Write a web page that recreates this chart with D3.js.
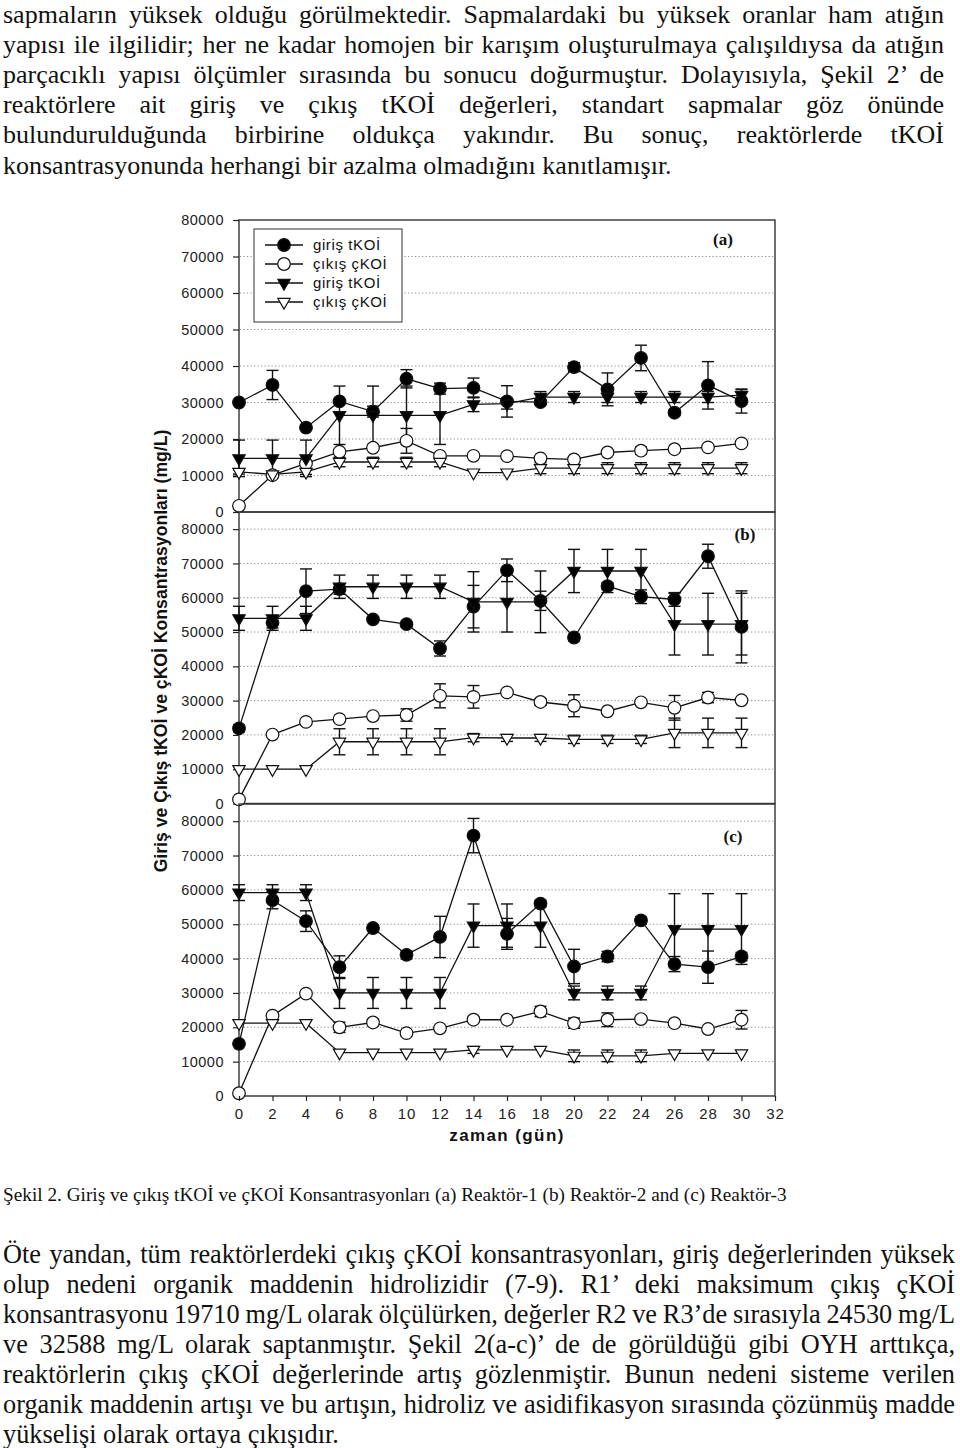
<!DOCTYPE html>
<html><head><meta charset="utf-8">
<script src="https://cdn.jsdelivr.net/npm/d3@7"></script>
<style>body{margin:0;background:#fff} svg{display:block}</style>
</head><body>
<script>
// ---------- DATA ----------
const days = [0,2,4,6,8,10,12,14,16,18,20,22,24,26,28,30];
const xTicks = [0,2,4,6,8,10,12,14,16,18,20,22,24,26,28,30,32];
const yTicks = [0,10000,20000,30000,40000,50000,60000,70000,80000];
const legendLabels = ["giriş tKOİ","çıkış çKOİ","giriş tKOİ","çıkış çKOİ"];
const panelLabels = ["(a)","(b)","(c)"];

// Panel (a) Reaktör-1
const aGirisT1    = [30000,34800,23100,30300,27500,36500,33800,34000,30300,30100,39700,33600,42200,27200,34700,30400];
const aGirisT1Err = [0,4000,500,0,1500,2500,1500,2700,4300,500,1200,4500,3500,800,6500,3300];
const aCikisC1    = [1700,10100,13300,16500,17600,19500,15400,15400,15300,14700,14400,16300,16800,17200,17700,18800];
const aCikisC1Err = [0,0,0,0,0,3400,0,0,0,0,0,0,1000,0,0,0];
const aGirisT2    = [14700,14700,14700,26500,26500,26500,26500,29500,29700,31500,31500,31500,31500,31500,31500,32000];
const aGirisT2Err = [5000,5000,5000,8000,8000,8000,8000,2000,1500,1500,1500,1500,1500,1500,1500,1500];
const aCikisC2    = [11000,10300,11000,13700,13700,13700,13700,10800,10800,12000,12000,12000,12000,12000,12000,12000];
const aCikisC2Err = [600,0,700,1300,1300,1300,1300,0,0,1500,1500,1500,1500,1500,1500,1500];

// Panel (b) Reaktör-2
const bGirisT1    = [21900,52700,61900,62500,53700,52300,45200,57400,68000,59100,48400,63400,60300,59500,72100,51500];
const bGirisT1Err = [1000,1500,6500,1500,500,500,2200,6200,3300,2800,1000,1000,2000,2000,3500,10500];
const bCikisC1    = [1200,20100,23800,24600,25500,25800,31400,31100,32400,29600,28500,26900,29500,27900,30900,30100];
const bCikisC1Err = [0,0,0,0,0,1800,3500,3300,700,1000,3200,0,0,3600,1500,0];
const bGirisT2    = [54000,54000,54000,63200,63200,63200,63200,58800,58800,58800,67800,67800,67800,52300,52300,52300];
const bGirisT2Err = [3500,3500,3500,3400,3400,3400,3400,8800,8800,9000,6300,6300,6300,9000,9000,9000];
const bCikisC2    = [10000,10000,10000,18000,18000,18000,18000,19200,19100,19100,18700,18700,18700,20600,20600,20600];
const bCikisC2Err = [0,0,0,3800,3800,3800,3800,1200,1000,1000,1200,1200,1200,4300,4300,4300];

// Panel (c) Reaktör-3
const cGirisT1    = [15200,57000,50900,37500,48900,41100,46300,75800,47200,56000,37700,40600,51100,38400,37500,40600];
const cGirisT1Err = [0,2500,3000,3300,500,1200,6000,5000,4500,1000,5000,1500,1000,2200,4700,1200];
const cCikisC1    = [800,23400,29800,20000,21400,18300,19700,22200,22200,24600,21200,22200,22400,21200,19500,22200];
const cCikisC1Err = [0,500,0,1500,1000,0,0,800,0,1500,1500,2000,0,0,0,2700];
const cGirisT2    = [59200,59200,59200,30000,30000,30000,30000,49600,49600,49600,30000,30000,30000,48600,48600,48600];
const cGirisT2Err = [2300,2300,2300,4500,4500,4500,4500,6300,6300,6300,2000,2000,2000,10300,10300,10300];
const cCikisC2    = [21200,21200,21200,12600,12600,12600,12600,13400,13400,13400,11700,11700,11700,12400,12400,12400];
const cCikisC2Err = [0,0,0,0,0,0,0,1000,0,0,1700,1700,1700,0,0,0];

// Texts
const topLines = [
 "sapmaların yüksek olduğu görülmektedir. Sapmalardaki bu yüksek oranlar ham atığın",
 "yapısı ile ilgilidir; her ne kadar homojen bir karışım oluşturulmaya çalışıldıysa da atığın",
 "parçacıklı yapısı ölçümler sırasında bu sonucu doğurmuştur. Dolayısıyla, Şekil 2’ de",
 "reaktörlere ait giriş ve çıkış tKOİ değerleri, standart sapmalar göz önünde",
 "bulundurulduğunda birbirine oldukça yakındır. Bu sonuç, reaktörlerde tKOİ",
 "konsantrasyonunda herhangi bir azalma olmadığını kanıtlamışır."
];
const caption = "Şekil 2. Giriş ve çıkış tKOİ ve çKOİ Konsantrasyonları (a) Reaktör-1 (b) Reaktör-2 and (c) Reaktör-3";
const bottomLines = [
 "Öte yandan, tüm reaktörlerdeki çıkış çKOİ konsantrasyonları, giriş değerlerinden yüksek",
 "olup nedeni organik maddenin hidrolizidir (7-9). R1’ deki maksimum çıkış çKOİ",
 "konsantrasyonu 19710 mg/L olarak ölçülürken, değerler R2 ve R3’de sırasıyla 24530 mg/L",
 "ve 32588 mg/L olarak saptanmıştır. Şekil 2(a-c)’ de de görüldüğü gibi OYH arttıkça,",
 "reaktörlerin çıkış çKOİ değerlerinde artış gözlenmiştir. Bunun nedeni sisteme verilen",
 "organik maddenin artışı ve bu artışın, hidroliz ve asidifikasyon sırasında çözünmüş madde",
 "yükselişi olarak ortaya çıkışıdır."
];
const yAxisTitle = "Giriş ve Çıkış tKOİ ve çKOİ Konsantrasyonları (mg/L)";
const xAxisTitle = "zaman (gün)";

// ---------- DRAW ----------
const W = 960, H = 1448;
const svg = d3.select("body").append("svg").attr("width", W).attr("height", H);
svg.append("rect").attr("width", W).attr("height", H).attr("fill", "#fff");

const serif = "'Liberation Serif','Times New Roman',serif";
const sans = "'Liberation Sans',Arial,Helvetica,sans-serif";

function textLine(text, x, y, width, justify, fs) {
  const t = svg.append("text").attr("x", x).attr("y", y)
    .style("font-family", serif).style("font-size", fs + "px").attr("fill", "#111").text(text);
  if (justify) {
    const w = t.node().getComputedTextLength();
    const n = (text.match(/ /g) || []).length;
    if (n > 0) t.style("word-spacing", ((width - w) / n) + "px");
  }
  return t;
}
// font size fitted so a text spans the same width as in the page
function fitSize(text, target, base, family, weight) {
  const t = svg.append("text").style("font-family", family || serif)
    .style("font-weight", weight || "normal").style("font-size", base + "px").text(text);
  const w = t.node().getComputedTextLength(); t.remove();
  return base * target / w;
}
const fsTop = fitSize(topLines[5], 669, 24);
topLines.forEach((l, i) => textLine(l, 3, 22.5 + i * 30.2, 941, i < topLines.length - 1, fsTop));
const fsCap = fitSize(caption, 784, 18);
textLine(caption, 3, 1201, 0, false, fsCap);
const fsBot = fitSize(bottomLines[6], 336, 24);
bottomLines.forEach((l, i) => textLine(l, 3, 1263 + i * 30, 952, i < bottomLines.length - 1, fsBot));

// chart geometry
const x = d3.scaleLinear().domain([0, 32]).range([239, 775]);
const panels = [
  {y: d3.scaleLinear().domain([0, 80000]).range([512, 220]), top: 220, bottom: 512,
   series: [[aGirisT1,aGirisT1Err],[aCikisC1,aCikisC1Err],[aGirisT2,aGirisT2Err],[aCikisC2,aCikisC2Err]],
   label: panelLabels[0], lx: 723, ly: 245},
  {y: d3.scaleLinear().domain([0, 85000]).range([803.5, 512]), top: 512, bottom: 803.5,
   series: [[bGirisT1,bGirisT1Err],[bCikisC1,bCikisC1Err],[bGirisT2,bGirisT2Err],[bCikisC2,bCikisC2Err]],
   label: panelLabels[1], lx: 745, ly: 540},
  {y: d3.scaleLinear().domain([0, 85000]).range([1096, 804]), top: 804, bottom: 1096,
   series: [[cGirisT1,cGirisT1Err],[cCikisC1,cCikisC1Err],[cGirisT2,cGirisT2Err],[cCikisC2,cCikisC2Err]],
   label: panelLabels[2], lx: 733, ly: 842}
];
const styles = [
  {shape: d3.symbolCircle, size: 125, fill: "#000", rot: 0},
  {shape: d3.symbolCircle, size: 125, fill: "#fff", rot: 0},
  {shape: d3.symbolTriangle, size: 66, fill: "#000", rot: 180},
  {shape: d3.symbolTriangle, size: 66, fill: "#fff", rot: 180}
];

panels.forEach(p => {
  const g = svg.append("g");
  // grid
  g.selectAll("line.grid").data(yTicks.filter(t => t > 0 && p.y(t) > p.top + 1)).join("line")
    .attr("x1", 240).attr("x2", 774).attr("y1", d => p.y(d)).attr("y2", d => p.y(d))
    .attr("stroke", "#8a8a8a").attr("stroke-width", 1).attr("stroke-dasharray", "1.2,2.3");
  // frame
  g.append("rect").attr("x", 239).attr("y", p.top).attr("width", 536).attr("height", p.bottom - p.top)
    .attr("fill", "none").attr("stroke", "#333").attr("stroke-width", 1.4);
  // y axis
  const ax = g.append("g").attr("transform", "translate(239,0)")
    .call(d3.axisLeft(p.y).tickValues(yTicks).tickSize(6).tickPadding(9).tickFormat(d3.format("d")));
  ax.select(".domain").remove();
  ax.selectAll("line").attr("stroke", "#222").attr("stroke-width", 1.2);
  ax.selectAll("text").style("font-family", sans).style("font-size", "14.5px")
    .style("letter-spacing", "0.5px").attr("fill", "#222");
  // series lines
  p.series.forEach(([vals, errs], si) => {
    const line = d3.line().x((d, i) => x(days[i])).y(d => p.y(d));
    g.append("path").datum(vals).attr("d", line).attr("fill", "none")
      .attr("stroke", "#111").attr("stroke-width", 1.3);
  });
  // error bars
  p.series.forEach(([vals, errs], si) => {
    const eb = g.append("g").attr("stroke", "#111").attr("stroke-width", 1.4);
    vals.forEach((v, i) => {
      const e = errs[i]; if (!e) return;
      const cx = x(days[i]);
      eb.append("line").attr("x1", cx).attr("x2", cx).attr("y1", p.y(v - e)).attr("y2", p.y(v + e));
      [v - e, v + e].forEach(c => eb.append("line").attr("x1", cx - 6).attr("x2", cx + 6)
        .attr("y1", p.y(c)).attr("y2", p.y(c)));
    });
  });
  // markers
  p.series.forEach(([vals, errs], si) => {
    const st = styles[si];
    g.append("g").selectAll("path").data(vals).join("path")
      .attr("d", d3.symbol().type(st.shape).size(st.size))
      .attr("transform", (d, i) => `translate(${x(days[i])},${p.y(d)}) rotate(${st.rot})`)
      .attr("fill", st.fill).attr("stroke", "#111").attr("stroke-width", 1.2);
  });
  g.append("text").attr("x", p.lx).attr("y", p.ly).attr("text-anchor", "middle")
    .style("font-family", serif).style("font-weight", "bold").style("font-size", "17px")
    .attr("fill", "#111").text(p.label);
});

// x axis
const xa = svg.append("g").attr("transform", "translate(0,1096)")
  .call(d3.axisBottom(x).tickValues(xTicks).tickSize(5).tickPadding(7));
xa.select(".domain").remove();
xa.selectAll("line").attr("stroke", "#222").attr("stroke-width", 1.2);
xa.selectAll("text").style("font-family", sans).style("font-size", "15px")
  .style("letter-spacing", "1px").attr("fill", "#222");

svg.append("text").attr("x", 507).attr("y", 1141).attr("text-anchor", "middle")
  .style("font-family", sans).style("font-weight", "bold").style("font-size", "17px")
  .style("letter-spacing", "1.4px").attr("fill", "#111").text(xAxisTitle);

const fsY = fitSize(yAxisTitle, 443, 15, sans, "bold");
svg.append("text").attr("transform", "translate(167,651) rotate(-90)").attr("text-anchor", "middle")
  .style("font-family", sans).style("font-weight", "bold").style("font-size", fsY + "px")
  .attr("fill", "#111").text(yAxisTitle);

// legend
const lg = svg.append("g");
lg.append("rect").attr("x", 254).attr("y", 229).attr("width", 148).attr("height", 93)
  .attr("fill", "#fff").attr("stroke", "#444").attr("stroke-width", 1.1);
legendLabels.forEach((lab, i) => {
  const ly = 245 + i * 19;
  lg.append("line").attr("x1", 265).attr("x2", 303).attr("y1", ly).attr("y2", ly)
    .attr("stroke", "#111").attr("stroke-width", 1.3);
  const st = styles[i];
  lg.append("path").attr("d", d3.symbol().type(st.shape).size(st.size)())
    .attr("transform", `translate(284,${ly}) rotate(${st.rot})`)
    .attr("fill", st.fill).attr("stroke", "#111").attr("stroke-width", 1.2);
  lg.append("text").attr("x", 313).attr("y", ly + 5)
    .style("font-family", sans).style("font-size", "15px").style("letter-spacing", "0.6px")
    .attr("fill", "#111").text(lab);
});
</script></body></html>
